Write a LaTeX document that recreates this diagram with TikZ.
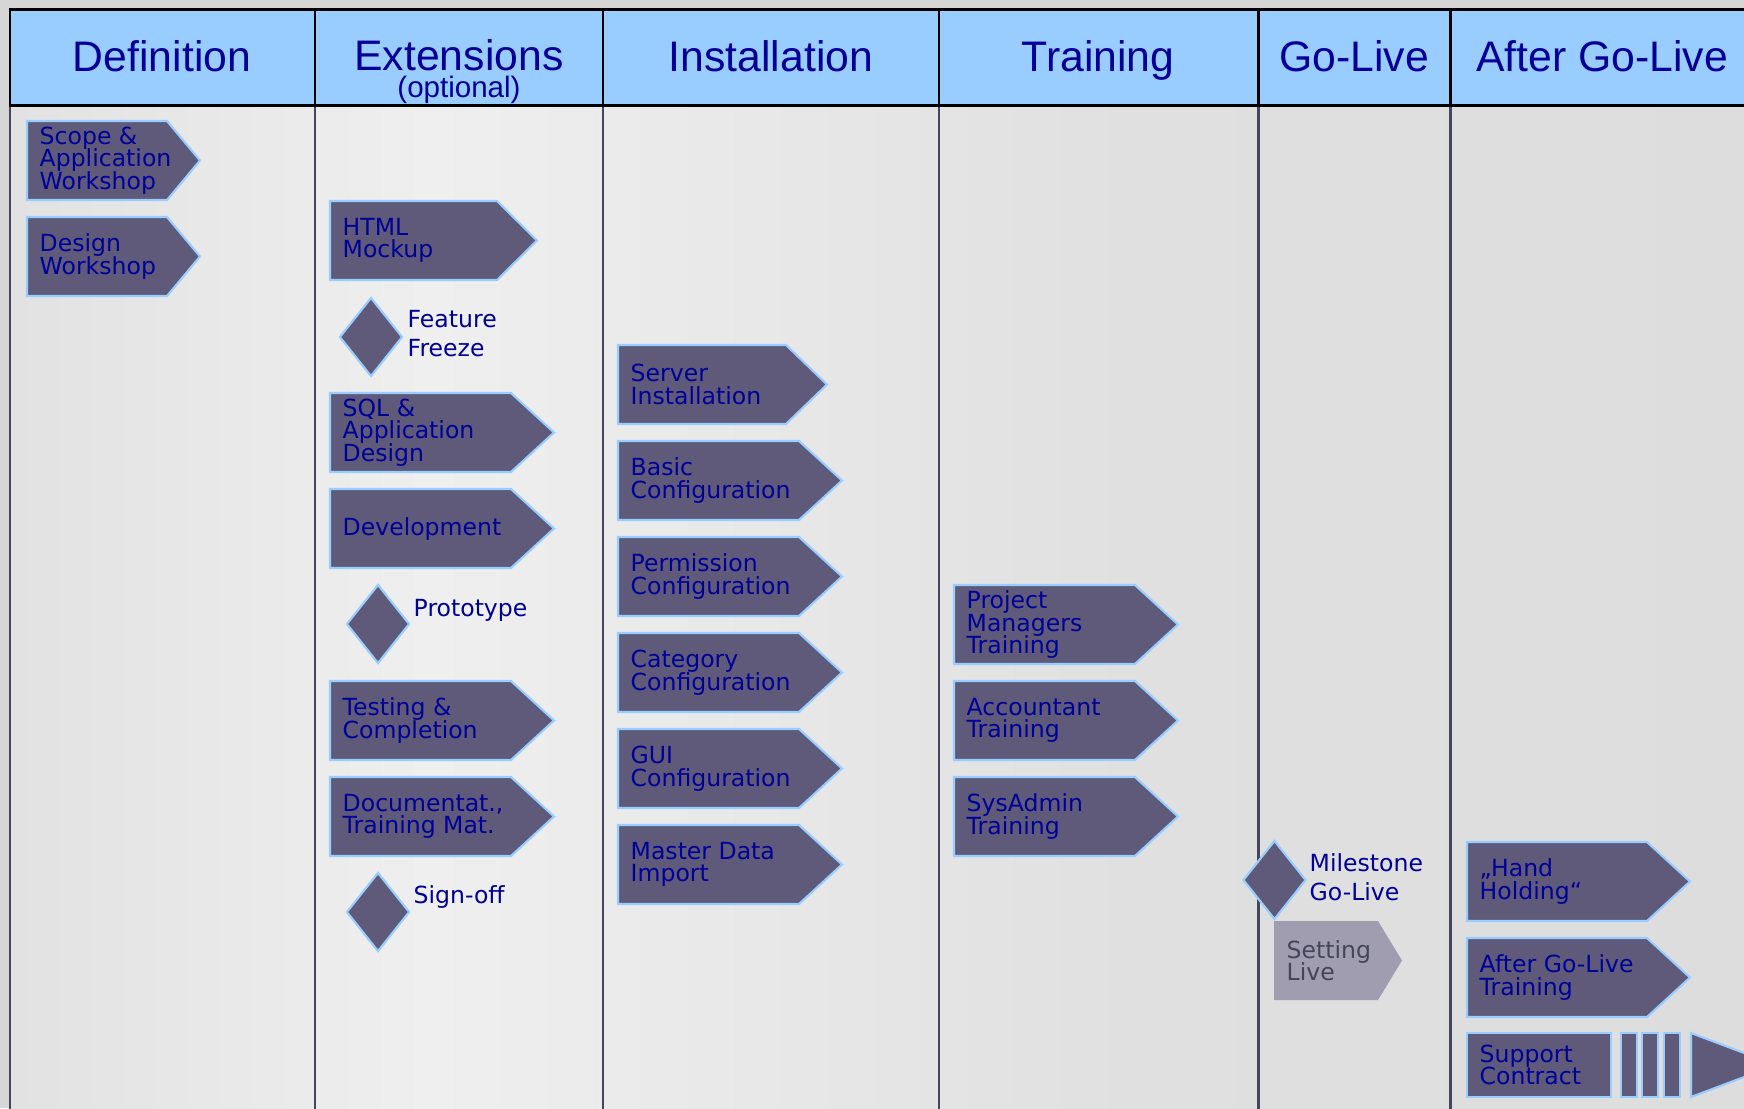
\documentclass[tikz,border=0pt]{standalone}
\usepackage{fontspec}
\setmainfont{DejaVu Sans}
\newfontfamily\headfont{Liberation Sans}
\usetikzlibrary{shapes.geometric}

\definecolor{headblue}{HTML}{99CCFF}
\definecolor{textnavy}{HTML}{000099}
\definecolor{phasepurple}{HTML}{5F5A7A}
\definecolor{edgeblue}{HTML}{99CCFF}
\definecolor{sepgray}{HTML}{45455F}
\definecolor{livegray}{HTML}{A19DB1}
\definecolor{livetext}{HTML}{45455A}
\definecolor{outergray}{HTML}{D6D6D6}
\definecolor{bgleft}{HTML}{E2E2E2}
\definecolor{bglight}{HTML}{EFEFEF}
\definecolor{bgmid}{HTML}{E0E0E0}
\definecolor{bgright}{HTML}{DDDDDD}

% the path box maps onto 25bp..75bp of the shading
\pgfdeclarehorizontalshading{bodyshade}{100bp}{color(0bp)=(bgleft); color(25bp)=(bgleft); color(37bp)=(bglight); color(57bp)=(bgmid); color(75bp)=(bgright); color(100bp)=(bgright)}

% tight box font
\newcommand{\phasefont}{\fontsize{6.7}{6.4}\selectfont\setlength{\lineskiplimit}{-10pt}}

% phase box: [style] name, left x, top y, rect width, point length, text
\newcommand{\phasebox}[7][phase]{%
  \draw[#1] (#3,#4) -- ++(#5,0) -- ++(#6,39.5) -- ++(-#6,39.5) -- ++(-#5,0) -- cycle;
  \node[#1 text] (#2) at (#3+12,#4+39.5) {#7};
}

\begin{document}
\begin{tikzpicture}[x=0.01cm, y=-0.01cm,
  phase/.style={fill=phasepurple, draw=edgeblue, line width=0.6pt, line join=miter},
  phase text/.style={anchor=west, align=left, inner sep=0pt, text=textnavy, font=\phasefont},
  live/.style={fill=livegray, draw=none},
  live text/.style={anchor=west, align=left, inner sep=0pt, text=livetext, font=\phasefont},
  milestone/.style={diamond, fill=phasepurple, draw=edgeblue, line width=0.6pt,
    inner sep=0pt, minimum width=0.63cm, minimum height=0.79cm},
  mslabel/.style={align=left, inner sep=0pt, text=textnavy,
    font=\fontsize{6.7}{8.25}\selectfont},
  head/.style={anchor=base, inner sep=0pt, text=textnavy, font=\headfont\fontsize{12.15}{14}\selectfont},
  subhead/.style={anchor=base, inner sep=0pt, text=textnavy, font=\headfont\fontsize{8.4}{10}\selectfont}]

\useasboundingbox (0,0) rectangle (1744,1108);
\clip (0,0) rectangle (1744,1108);

% background
\fill[outergray] (0,0) rectangle (1744,1108);
\shade[shading=bodyshade] (10,105) rectangle (1760,1120);

% header row
\fill[headblue] (10,9) rectangle (1760,105);
\foreach \xa in {315,603,939,1258,1450}
  \draw[sepgray, line width=0.85pt] (\xa,105) -- (\xa,1120);
\draw[sepgray, line width=0.85pt] (10,105) -- (10,1120);
\draw[black, line width=0.85pt] (1760,9) -- (10,9) -- (10,105) -- (1760,105);
\foreach \xa in {315,603,939,1258,1450}
  \draw[black, line width=0.85pt] (\xa,9) -- (\xa,105);

\node[head] (hdef) at (162,71) {Definition};
\node[head] (hext) at (459,70) {Extensions};
\node[subhead] (hopt) at (459,97) {(optional)};
\node[head] (hinst) at (771,71) {Installation};
\node[head] (htrain) at (1098,71) {Training};
\node[head] (hlive) at (1354,71) {Go-Live};
\node[head] (hafter) at (1602,71) {After Go-Live};

% Definition
\phasebox{scope}{27}{121}{140}{33}{Scope \&\\Application\\Workshop}
\phasebox{design}{27}{217}{140}{33}{Design\\Workshop}

% Extensions
\phasebox{html}{330}{201}{167}{40}{HTML\\Mockup}
\node[milestone] (freeze) at (371,337) {};
\node[mslabel, anchor=west] (freezetxt) at (407,334) {Feature\\Freeze};
\phasebox{sql}{330}{393}{181}{43}{SQL \&\\Application\\Design}
\phasebox{dev}{330}{489}{181}{43}{Development}
\node[milestone] (proto) at (378,624) {};
\node[mslabel, anchor=base west] (prototxt) at (413,616) {Prototype};
\phasebox{testing}{330}{681}{181}{43}{Testing \&\\Completion}
\phasebox{docu}{330}{777}{181}{43}{Documentat.,\\Training Mat.}
\node[milestone] (signoff) at (378,912) {};
\node[mslabel, anchor=base west] (signofftxt) at (413,903) {Sign-off};

% Installation
\phasebox{server}{618}{345}{168}{41}{Server\\Installation}
\phasebox{basic}{618}{441}{181}{43}{Basic\\Configuration}
\phasebox{perm}{618}{537}{181}{43}{Permission\\Configuration}
\phasebox{cat}{618}{633}{181}{43}{Category\\Configuration}
\phasebox{gui}{618}{729}{181}{43}{GUI\\Configuration}
\phasebox{master}{618}{825}{181}{43}{Master Data\\Import}

% Training
\phasebox{pm}{954}{585}{181}{43}{Project\\Managers\\Training}
\phasebox{acc}{954}{681}{181}{43}{Accountant\\Training}
\phasebox{sysadm}{954}{777}{181}{43}{SysAdmin\\Training}

% Go-Live
\node[milestone] (golive) at (1274.5,880) {};
\node[mslabel, anchor=west] (golivetxt) at (1309,877.5) {Milestone\\Go-Live};
\phasebox[live]{setlive}{1274}{921}{104}{24}{Setting\\Live}

% After Go-Live
\phasebox{hand}{1467}{842}{180}{43}{„Hand\\Holding“}
\phasebox{aglt}{1467}{938}{180}{43}{After Go-Live\\Training}
\draw[phase] (1467,1033) rectangle (1611,1097);
\node[phase text] (support) at (1479,1065) {Support\\Contract};
\foreach \xa in {1621,1642,1664}
  \draw[phase] (\xa,1033) rectangle ++(16,64);
\draw[phase] (1691,1033) -- (1776,1065) -- (1691,1097) -- cycle;

\end{tikzpicture}
\end{document}
